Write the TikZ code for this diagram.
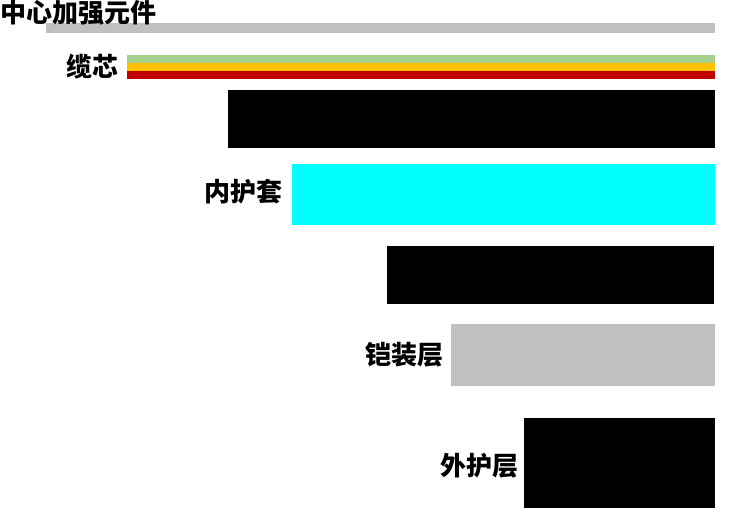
\documentclass[tikz,border=0pt]{standalone}
\usepackage{fontspec}
\newfontfamily\cjk{Noto Sans CJK SC}
\usetikzlibrary{positioning}
\definecolor{strengthgray}{HTML}{C0C0C0}
\definecolor{coregreen}{HTML}{A9D18E}
\definecolor{coreyellow}{HTML}{FFC000}
\definecolor{corered}{HTML}{C00000}
\definecolor{innercyan}{HTML}{00FFFF}
\tikzset{bar/.style={anchor=north east, inner sep=0pt, outer sep=0pt, draw=none},
	layername/.style={font=\cjk\bfseries\fontsize{26}{26}\selectfont, inner sep=0pt, outer sep=0pt}
}

\begin{document}
\begin{tikzpicture}[x=1pt, y=-1pt]
	\useasboundingbox (0,0) rectangle (731,516);
	% bars, right edges aligned
	\node[bar, fill=strengthgray, minimum width=669pt, minimum height=10pt] at (715,23) (strength) {};
	\node[bar, fill=coregreen, minimum width=588pt, minimum height=8pt] at (715,55) (green) {};
	\node[bar, fill=coreyellow, minimum width=588pt, minimum height=8pt, below=0pt of green.south east, anchor=north east] (yellow) {};
	\node[bar, fill=corered, minimum width=588pt, minimum height=8pt, below=0pt of yellow.south east, anchor=north east] (red) {};
	\node[bar, fill=black, minimum width=487pt, minimum height=58pt] at (715,90) (black1) {};
	\node[bar, fill=innercyan, minimum width=423pt, minimum height=61pt] at (715,164) (inner) {};
	\node[bar, fill=black, minimum width=327pt, minimum height=58pt] at (714,246) (black2) {};
	\node[bar, fill=strengthgray, minimum width=264pt, minimum height=62pt] at (715,324) (armour) {};
	\node[bar, fill=black, minimum width=191pt, minimum height=90pt] at (715,418) (outer) {};
	
	% names
	\node[layername, anchor=west] at (1,13) (strengthname) {中心加强元件};
	\node[layername, left=9pt of yellow.west] (corename) {缆芯};
	\node[layername, left=10pt of inner.west, yshift=3pt] (innername) {内护套};
	\node[layername, left=8pt of armour.west] (armourname) {铠装层};
	\node[layername, left=6pt of outer.west, yshift=-3pt] (outername) {外护层};
\end{tikzpicture}
\end{document}
